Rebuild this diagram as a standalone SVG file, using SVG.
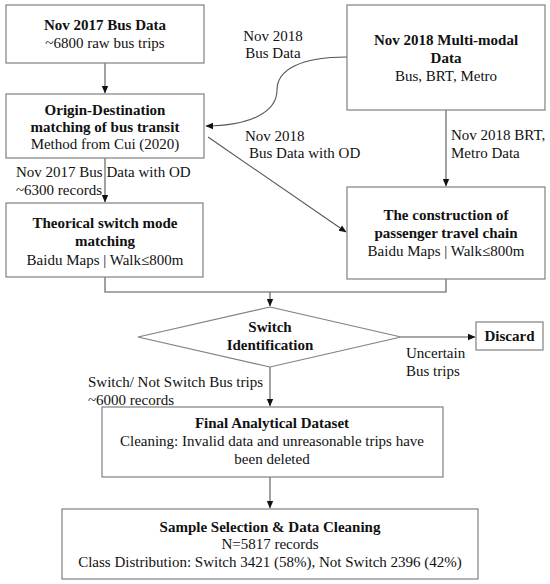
<svg xmlns="http://www.w3.org/2000/svg" width="550" height="584" viewBox="0 0 550 584">
<defs>
<marker id="arr" markerWidth="8" markerHeight="8" refX="7" refY="4" orient="auto" markerUnits="userSpaceOnUse">
<path d="M0,0.8 L7.5,4 L0,7.2 Z" fill="#111"/>
</marker>
<style>
.box{fill:#fff;stroke:#808080;stroke-width:1.2}
.c{fill:none;stroke:#555;stroke-width:1.1}
text{font-family:Liberation Serif, Times New Roman, Tinos, DejaVu Serif, serif;font-size:15px;fill:#111}
.b{font-weight:bold}
.m{text-anchor:middle}
</style>
</defs>
<rect width="550" height="584" fill="#fff"/>
<g id="connectors">
<path class="c" d="M105,63 V93" marker-end="url(#arr)"/>
<path class="c" d="M347,57 C300,57 277,70 277,90 C277,112 250,126 206,126" marker-end="url(#arr)"/>
<path class="c" d="M208,137 L346,232" marker-end="url(#arr)"/>
<path class="c" d="M446,110 V186" marker-end="url(#arr)"/>
<path class="c" d="M105,158 V202" marker-end="url(#arr)"/>
<path class="c" d="M105,277 V292 H446 V279"/>
<path class="c" d="M270,292 V306" marker-end="url(#arr)"/>
<path class="c" d="M401,337 H475" marker-end="url(#arr)"/>
<path class="c" d="M270,367 V406" marker-end="url(#arr)"/>
<path class="c" d="M270,477 V508" marker-end="url(#arr)"/>
<text x="273" y="41" class="m">Nov 2018</text>
<text x="273" y="58" class="m">Bus Data</text>
<text x="245" y="141">Nov 2018</text>
<text x="249" y="158">Bus Data with OD</text>
<text x="451" y="140">Nov 2018 BRT,</text>
<text x="451" y="158">Metro Data</text>
<text x="16" y="177">Nov 2017 Bus Data with OD</text>
<text x="16" y="195">~6300 records</text>
<text x="406" y="358">Uncertain</text>
<text x="406" y="376">Bus trips</text>
<text x="88" y="387">Switch/ Not Switch Bus trips</text>
<text x="88" y="405">~6000 records</text>
</g>
<g id="n1">
<rect class="box" x="6" y="5" width="198" height="58"/>
<text x="105" y="30" class="m b">Nov 2017 Bus Data</text>
<text x="105" y="48" class="m">~6800 raw bus trips</text>
</g>
<g id="n2">
<rect class="box" x="6" y="94" width="198" height="64"/>
<text x="105" y="115" class="m b">Origin-Destination</text>
<text x="105" y="132" class="m b">matching of bus transit</text>
<text x="105" y="149" class="m">Method from Cui (2020)</text>
</g>
<g id="n3">
<rect class="box" x="347" y="5" width="198" height="105"/>
<text x="446" y="45" class="m b">Nov 2018 Multi-modal</text>
<text x="446" y="63" class="m b">Data</text>
<text x="446" y="81" class="m">Bus, BRT, Metro</text>
</g>
<g id="n4">
<rect class="box" x="6" y="203" width="197" height="74"/>
<text x="105" y="228" class="m b">Theorical switch mode</text>
<text x="105" y="246" class="m b">matching</text>
<text x="105" y="265" class="m">Baidu Maps | Walk≤800m</text>
</g>
<g id="n5">
<rect class="box" x="347" y="187" width="198" height="92"/>
<text x="446" y="220" class="m b">The construction of</text>
<text x="446" y="238" class="m b">passenger travel chain</text>
<text x="446" y="256" class="m">Baidu Maps | Walk≤800m</text>
</g>
<g id="n6">
<polygon class="box" points="270,307 401,337 270,367 138,337"/>
<text x="270" y="332" class="m b">Switch</text>
<text x="270" y="350" class="m b">Identification</text>
</g>
<g id="n7">
<rect class="box" x="476" y="322" width="67" height="28"/>
<text x="509.5" y="341" class="m b">Discard</text>
</g>
<g id="n8">
<rect class="box" x="102" y="407" width="341" height="70"/>
<text x="272" y="428" class="m b">Final Analytical Dataset</text>
<text x="272" y="446" class="m">Cleaning: Invalid data and unreasonable trips have</text>
<text x="272" y="464" class="m">been deleted</text>
</g>
<g id="n9">
<rect class="box" x="62" y="509" width="416" height="70"/>
<text x="270" y="532" class="m b">Sample Selection &amp; Data Cleaning</text>
<text x="270" y="549" class="m">N=5817 records</text>
<text x="270" y="567" class="m">Class Distribution: Switch 3421 (58%), Not Switch 2396 (42%)</text>
</g>
</svg>
